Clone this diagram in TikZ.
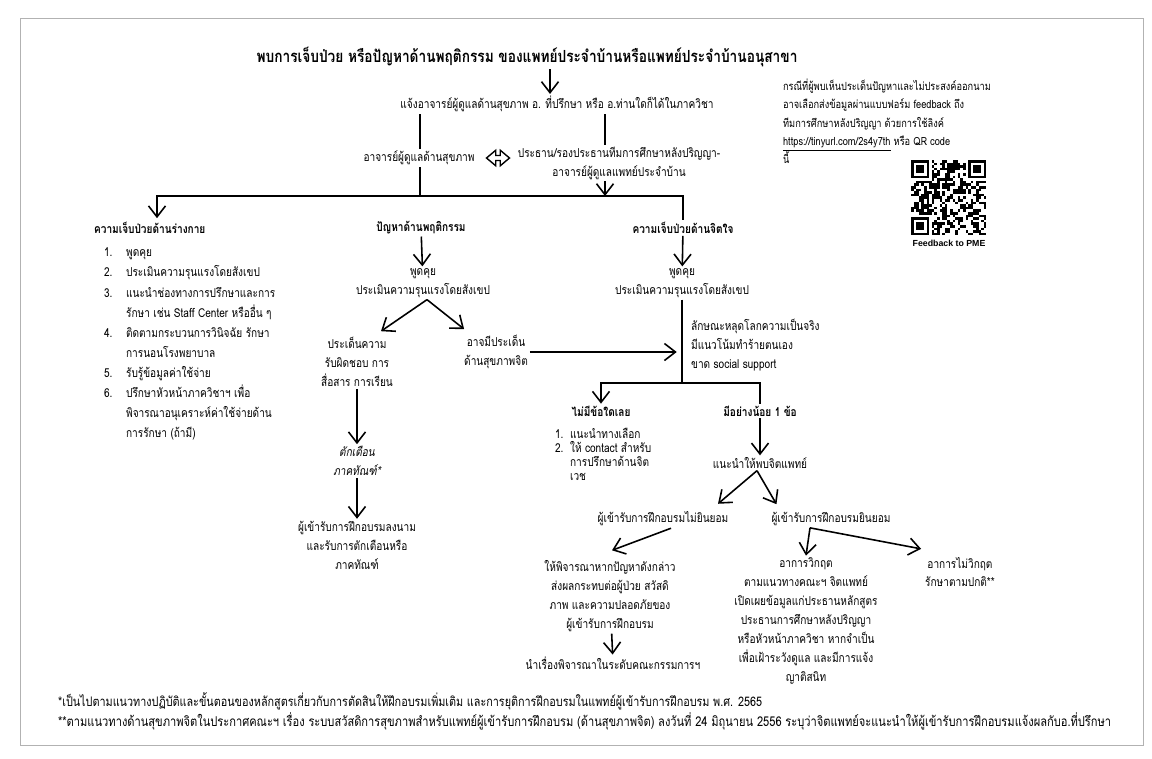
\documentclass[tikz,border=0pt]{standalone}
\usepackage{fontspec}
\setmainfont[Script=Thai, FakeStretch=0.82]{Loma}
\newfontfamily\capfont{Liberation Sans}
\usetikzlibrary{positioning}
\usetikzlibrary{calc}
\usetikzlibrary{arrows.meta}
\usetikzlibrary{shapes.arrows}
\newcommand{\bodysize}{\fontsize{7}{10.8}\selectfont}
\newcommand{\listsize}{\fontsize{7}{8}\selectfont}
\newcommand{\num}[1]{\makebox[0.44cm][l]{#1}}
\newcommand{\snum}[1]{\makebox[0.3cm][l]{#1}}

\begin{document}
\begin{tikzpicture}[x=0.02cm, y=-0.02cm,
        txt/.style={align=center, inner sep=1pt, font=\bodysize},
        head/.style={align=center, inner sep=1pt, font=\bodysize\bfseries},
        flow/.style={-{Straight Barb[length=2.2mm,width=3.4mm]}, line width=0.9pt},
        link/.style={line width=0.9pt}]
    \useasboundingbox (0,0) rectangle (1152,758);
    \draw [gray!60, line width=0.4pt] (20,18) rectangle (1143,745);

    % top of the chart
    \node [head, font=\fontsize{9.5}{12}\selectfont\bfseries] (title) at (527,57)
        {พบการเจ็บป่วย หรือปัญหาด้านพฤติกรรม ของแพทย์ประจำบ้านหรือแพทย์ประจำบ้านอนุสาขา};
    \node [txt] (notify) at (557,104)
        {แจ้งอาจารย์ผู้ดูแลด้านสุขภาพ อ. ที่ปรึกษา หรือ อ.ท่านใดก็ได้ในภาควิชา};
    \node [txt] (adv) at (419,158) {อาจารย์ผู้ดูแลด้านสุขภาพ};
    \node [txt] (chair) at (619,163)
        {ประธาน/รองประธานทีมการศึกษาหลังปริญญา-\\อาจารย์ผู้ดูแลแพทย์ประจำบ้าน};
    \node [draw, double arrow, line width=0.8pt, inner sep=1pt, minimum height=0.46cm,
        double arrow head extend=3pt, double arrow tip angle=80]
        (swapsign) at (498,158) {};
    \coordinate (tx) at (550,0);
    \coordinate (cx) at (605,0);
    \coordinate (bar) at (420,196);

    \draw [flow] (title.south -| tx) -- (notify.north -| tx);
    \draw [link] (notify.south -| bar) -- (adv.north -| bar);
    \draw [link] (notify.south -| cx) -- (chair.north -| cx);
    \draw [link] (adv.south -| bar) -- (bar);
    \draw [flow] (chair.south -| cx) -- (bar -| cx);

    % three kinds of problem
    \node [head, anchor=west] (bodyhead) at (92,228) {ความเจ็บป่วยด้านร่างกาย};
    \node [head] (midhead) at (421,228) {ปัญหาด้านพฤติกรรม};
    \node [head] (mindhead) at (683,228) {ความเจ็บป่วยด้านจิตใจ};
    \draw [flow] (bar) -| ($(bodyhead.north west)+(65,-2)$);
    \draw [link] (bar) -| (mindhead.north);

    % body
    \node [txt, align=left, anchor=north west, font=\fontsize{7}{11.4}\selectfont] (bodylist) at (102,246)
        {\num{1.}พูดคุย\\
         \num{2.}ประเมินความรุนแรงโดยสังเขป\\
         \num{3.}แนะนำช่องทางการปรึกษาและการ\\
         \num{}รักษา เช่น Staff Center หรืออื่น ๆ\\
         \num{4.}ติดตามกระบวนการวินิจฉัย รักษา\\
         \num{}การนอนโรงพยาบาล\\
         \num{5.}รับรู้ข้อมูลค่าใช้จ่าย\\
         \num{6.}ปรึกษาหัวหน้าภาควิชาฯ เพื่อ\\
         \num{}พิจารณาอนุเคราะห์ค่าใช้จ่ายด้าน\\
         \num{}การรักษา (ถ้ามี)};

    % behaviour
    \node [txt] (midtalk) at (423,283) {พูดคุย\\ประเมินความรุนแรงโดยสังเขป};
    \node [txt] (resp) at (357,362) {ประเด็นความ\\รับผิดชอบ การ\\สื่อสาร การเรียน};
    \node [txt] (mental) at (496,352) {อาจมีประเด็น\\ด้านสุขภาพจิต};
    \node [txt, font=\bodysize\itshape] (warn) at (357,461) {ตักเตือน\\ภาคทัณฑ์*};
    \node [txt] (sign) at (357,545)
        {ผู้เข้ารับการฝึกอบรมลงนาม\\และรับการตักเตือนหรือ\\ภาคทัณฑ์};
    \draw [flow] (midhead) -- (midtalk);
    \draw [flow] ($(midtalk.south)+(4,0)$) -- ($(resp.north)+(24,-4)$);
    \draw [flow] ($(midtalk.south)+(4,0)$) -- ($(mental.north west)+(2,-4)$);
    \draw [flow] (resp) -- (warn);
    \draw [flow] (warn) -- (sign);

    % mind
    \node [txt] (mindtalk) at (682,283) {พูดคุย\\ประเมินความรุนแรงโดยสังเขป};
    \coordinate (split) at (682,383);
    \node [txt, align=left, anchor=west] (risk) at (689,345)
        {ลักษณะหลุดโลกความเป็นจริง\\มีแนวโน้มทำร้ายตนเอง\\ขาด social support};
    \node [head] (none) at (601,411) {ไม่มีข้อใดเลย};
    \node [head] (some) at (760,411) {มีอย่างน้อย 1 ข้อ};
    \node [txt, align=left, anchor=north west, font=\listsize] (nonelist) at (553,426)
        {\snum{1.}แนะนำทางเลือก\\
         \snum{2.}ให้ contact สำหรับ\\
         \snum{}การปรึกษาด้านจิต\\
         \snum{}เวช};
    \draw [flow] (mindhead) -- (mindtalk);
    \draw [link] (mindtalk) -- (split);
    \draw [flow, shorten >=3pt] (mental) -- (mental -| split);
    \draw [flow] (split) -| (none.north);
    \draw [link] (split) -| (some.north);

    \node [txt] (advise) at (760,463) {แนะนำให้พบจิตแพทย์};
    \node [txt] (refuse) at (663,519) {ผู้เข้ารับการฝึกอบรมไม่ยินยอม};
    \node [txt] (consent) at (831,519) {ผู้เข้ารับการฝึกอบรมยินยอม};
    \draw [flow] (some) -- (advise);
    \draw [flow] ($(advise.south)+(-3,0)$) -- ($(refuse.north)+(55,-6)$);
    \draw [flow] ($(advise.south)+(-3,0)$) -- ($(consent.north west)+(7,-6)$);

    \node [txt] (consider) at (610,596)
        {ให้พิจารณาหากปัญหาดังกล่าว\\ส่งผลกระทบต่อผู้ป่วย สวัสดิ\\ภาพ และความปลอดภัยของ\\ผู้เข้ารับการฝึกอบรม};
    \node [txt] (committee) at (613,663) {นำเรื่องพิจารณาในระดับคณะกรรมการฯ};
    \draw [flow] ($(refuse.south)+(8,0)$) -- ($(consider.north)+(2,-8)$);
    \draw [flow] (consider) -- (committee);

    \node [txt] (crisis) at (806,621)
        {อาการวิกฤต\\ตามแนวทางคณะฯ จิตแพทย์\\เปิดเผยข้อมูลแก่ประธานหลักสูตร\\ประธานการศึกษาหลังปริญญา\\หรือหัวหน้าภาควิชา หากจำเป็น\\เพื่อเฝ้าระวังดูแล และมีการแจ้ง\\ญาติสนิท};
    \node [txt] (calm) at (960,572) {อาการไม่วิกฤต\\รักษาตามปกติ**};
    \coordinate (cfork) at ($(consent.south)+(-21,0)$);
    \draw [flow] (cfork) -- (crisis.north);
    \draw [flow] (cfork) -- ($(calm.north west)+(-2,-6)$);

    % feedback box
    \node [txt, align=left, anchor=north west, font=\fontsize{6.4}{10.4}\selectfont] (feedback) at (781,77)
        {กรณีที่ผู้พบเห็นประเด็นปัญหาและไม่ประสงค์ออกนาม\\
         อาจเลือกส่งข้อมูลผ่านแบบฟอร์ม feedback ถึง\\
         ทีมการศึกษาหลังปริญญา ด้วยการใช้ลิงค์\\
         \underline{https://tinyurl.com/2s4y7th} หรือ QR code\\
         นี้};
    \begin{scope}[shift={(911,160)}]
        \pgfmathsetseed{31}
        \foreach \i in {0,...,28}{
            \foreach \j in {0,...,28}{
                \pgfmathrandominteger{\bit}{0}{1}
                \ifnum\bit=1 \fill (2.6*\i,2.6*\j) rectangle ++(2.6,2.6); \fi
            }
        }
        \foreach \fx/\fy in {0/0, 57.2/0, 0/57.2}{
            \fill [white] (\fx-2.6,\fy-2.6) rectangle ++(23.4,23.4);
            \fill (\fx,\fy) rectangle ++(18.2,18.2);
            \fill [white] (\fx+2.6,\fy+2.6) rectangle ++(13,13);
            \fill (\fx+5.2,\fy+5.2) rectangle ++(7.8,7.8);
        }
    \end{scope}
    \node [inner sep=0pt, font=\capfont\fontsize{5}{6}\selectfont\bfseries] (qrcap) at (949,243) {Feedback to PME};

    % notes
    \node [txt, anchor=west, font=\fontsize{7.5}{10}\selectfont] (note1) at (56,701)
        {*เป็นไปตามแนวทางปฏิบัติและขั้นตอนของหลักสูตรเกี่ยวกับการตัดสินให้ฝึกอบรมเพิ่มเติม และการยุติการฝึกอบรมในแพทย์ผู้เข้ารับการฝึกอบรม พ.ศ. 2565};
    \node [txt, anchor=west, font=\fontsize{7.7}{10}\selectfont] (note2) at (56,721)
        {**ตามแนวทางด้านสุขภาพจิตในประกาศคณะฯ เรื่อง ระบบสวัสดิการสุขภาพสำหรับแพทย์ผู้เข้ารับการฝึกอบรม (ด้านสุขภาพจิต) ลงวันที่ 24 มิถุนายน 2556 ระบุว่าจิตแพทย์จะแนะนำให้ผู้เข้ารับการฝึกอบรมแจ้งผลกับอ.ที่ปรึกษา};
\end{tikzpicture}
\end{document}
